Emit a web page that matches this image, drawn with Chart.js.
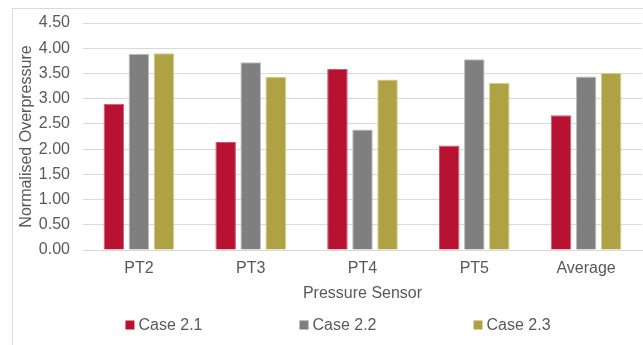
<!DOCTYPE html>
<html>
<head>
<meta charset="utf-8">
<script src="https://cdn.jsdelivr.net/npm/chart.js@4"></script>
<style>
  html, body { margin: 0; padding: 0; background: #fff; overflow: hidden; }
  #wrap { position: relative; width: 643px; height: 345px; }
  #frame { position: absolute; left: 12px; top: 8px; width: 700px; height: 400px;
           border: 1px solid #D9D9D9; box-sizing: border-box; }
  canvas { position: absolute; left: 0; top: 0; }
</style>
</head>
<body>
<div id="wrap">
  <div id="frame"></div>
  <canvas id="c" width="643" height="345"></canvas>
</div>
<script>
// Normalised overpressure per pressure sensor
const categories = ['PT2', 'PT3', 'PT4', 'PT5', 'Average'];
const case21 = [2.90, 2.14, 3.59, 2.07, 2.67];
const case22 = [3.89, 3.72, 2.39, 3.78, 3.44];
const case23 = [3.90, 3.43, 3.38, 3.31, 3.51];
const seriesNames = ['Case 2.1', 'Case 2.2', 'Case 2.3'];
const yTicks = [0, 0.5, 1, 1.5, 2, 2.5, 3, 3.5, 4, 4.5];

const FONT = "'Liberation Sans', Arial, sans-serif";
const TEXT = '#595959';
const GRID = '#D9D9D9';

// Legend laid out as a single row, widely spaced, under the axis title
const wideLegend = {
  id: 'wideLegend',
  afterDraw(chart) {
    const ctx = chart.ctx;
    const box = 9, gap = 4, spacing = 97, centerX = 338, midY = 325;
    ctx.save();
    ctx.font = '16px ' + FONT;
    ctx.textBaseline = 'middle';
    ctx.textAlign = 'left';
    const ds = chart.data.datasets;
    const widths = ds.map(d => box + gap + ctx.measureText(d.label).width);
    const total = widths.reduce((a, b) => a + b, 0) + spacing * (ds.length - 1);
    let x = centerX - total / 2;
    ds.forEach((d, i) => {
      ctx.fillStyle = d.backgroundColor;
      ctx.fillRect(x, midY - box / 2, box, box);
      ctx.fillStyle = TEXT;
      ctx.fillText(d.label, x + box + gap, midY + 0.5);
      x += widths[i] + spacing;
    });
    ctx.restore();
  }
};

new Chart(document.getElementById('c'), {
  type: 'bar',
  data: {
    labels: categories,
    datasets: [
      { label: seriesNames[0], data: case21, backgroundColor: '#B81232', borderColor: '#D4576D', borderWidth: 1 },
      { label: seriesNames[1], data: case22, backgroundColor: '#7F7F7F', borderColor: '#BDBDBD', borderWidth: 1 },
      { label: seriesNames[2], data: case23, backgroundColor: '#AEA244', borderColor: '#D3CB86', borderWidth: 1 }
    ]
  },
  options: {
    responsive: false,
    animation: false,
    devicePixelRatio: 1,
    layout: { padding: { left: 0, top: 23, right: 1, bottom: 0 } },
    datasets: { bar: { categoryPercentage: 0.672, barPercentage: 0.82 } },
    plugins: {
      legend: { display: false },
      tooltip: { enabled: false }
    },
    scales: {
      x: {
        grid: { display: false, drawTicks: false },
        border: { display: true, color: GRID, width: 1 },
        ticks: { color: TEXT, font: { family: FONT, size: 16 }, padding: 9 },
        title: { display: true, text: 'Pressure Sensor', color: TEXT,
                 font: { family: FONT, size: 16 }, padding: { top: 0, bottom: 42 } },
        afterFit(scale) { scale.height = 95; }
      },
      y: {
        min: 0, max: 4.5,
        afterBuildTicks(scale) { scale.ticks = yTicks.map(v => ({ value: v })); },
        grid: { color: GRID, lineWidth: 1, drawTicks: false },
        border: { display: false },
        ticks: { color: TEXT, font: { family: FONT, size: 16 }, padding: 13,
                 callback: v => Number(v).toFixed(2) },
        title: { display: true, text: 'Normalised Overpressure', color: TEXT,
                 font: { family: FONT, size: 16 }, padding: { top: 17, bottom: 0 } },
        afterFit(scale) { scale.width = 83; }
      }
    }
  },
  plugins: [wideLegend]
});
</script>
</body>
</html>
